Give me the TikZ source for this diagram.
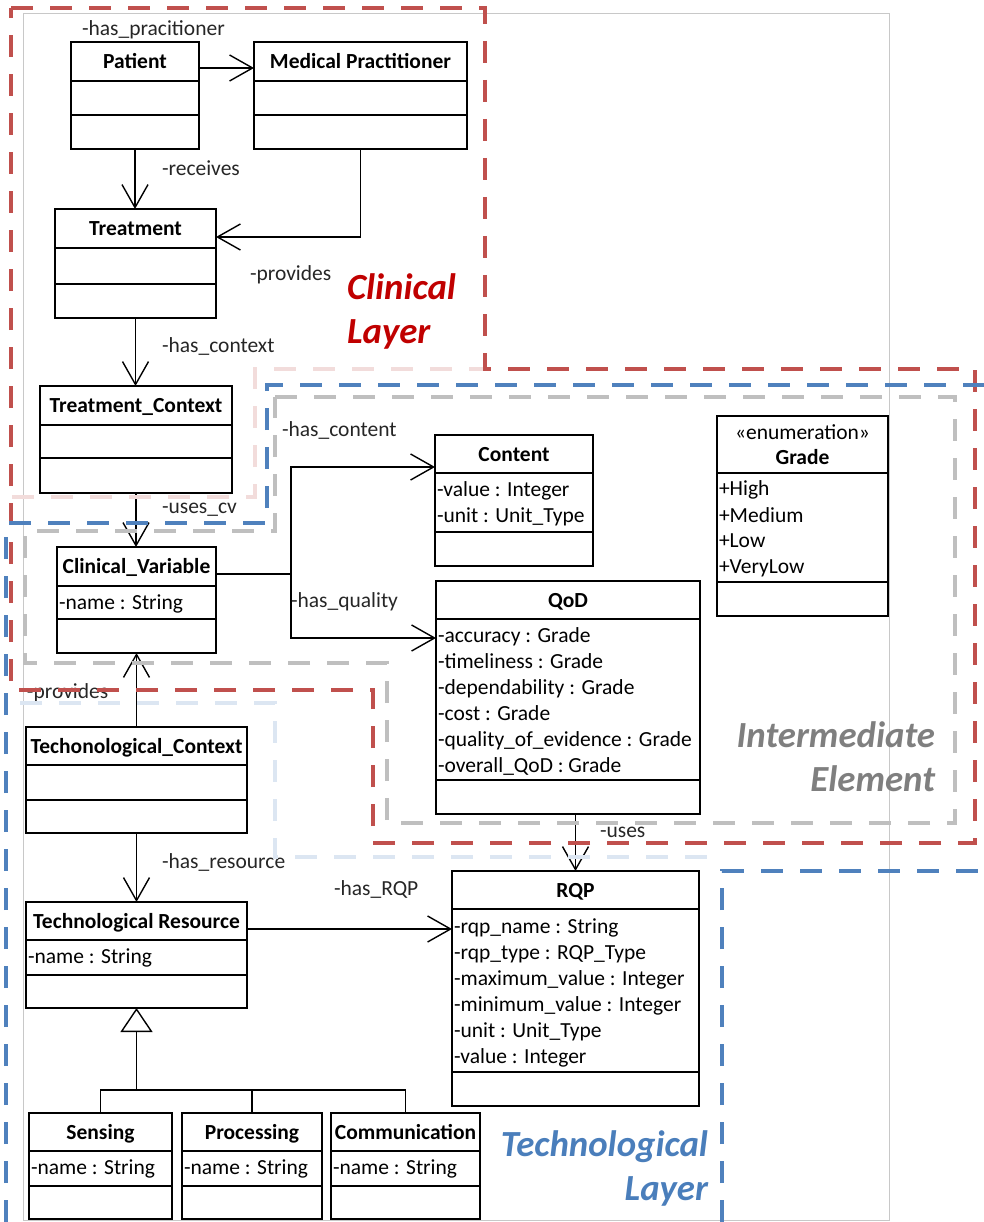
\documentclass[tikz,border=0pt]{standalone}
\usepackage{fontspec}
\setmainfont{Carlito}
\usetikzlibrary{arrows.meta}

\definecolor{layerred}{HTML}{C0504D}
\definecolor{layerblue}{HTML}{4F81BD}
\definecolor{layergray}{HTML}{BFBFBF}
\definecolor{ghostred}{HTML}{F2DCDB}
\definecolor{ghostblue}{HTML}{DCE6F2}
\definecolor{framegray}{HTML}{C8C8C8}
\definecolor{clinred}{HTML}{C00000}
\definecolor{techblue}{HTML}{4A7EBB}
\definecolor{intergray}{HTML}{7F7F7F}
\definecolor{lblgray}{HTML}{262626}

% UML class: name, left x, top y, width, total height, first and second compartment offsets
\newcommand\umlclass[7]{%
  \node[classbox, minimum width=#4pt, minimum height=#5pt, anchor=north west] (#1) at (#2,#3) {};
  \draw[compline] ([yshift=-#6pt]#1.north west) -- ([yshift=-#6pt]#1.north east);
  \draw[compline] ([yshift=-#7pt]#1.north west) -- ([yshift=-#7pt]#1.north east);
}

\begin{document}
\begin{tikzpicture}[x=1pt,y=-1pt,
  every node/.style={inner sep=0pt, outer sep=0pt},
  font=\fontsize{21.5}{26}\selectfont,
  classbox/.style={draw=black, line width=1.8pt, fill=white, rectangle},
  compline/.style={draw=black, line width=1.8pt},
  ttl/.style={anchor=base, font=\fontsize{21.5}{26}\selectfont\bfseries},
  stereo/.style={anchor=base},
  attr/.style={anchor=base west},
  lbl/.style={anchor=base west, text=lblgray},
  link/.style={line width=1.4pt},
  assoc/.style={line width=1.4pt, -{Straight Barb[length=23pt, width=26pt]}},
  gen/.style={line width=1.4pt, -{Triangle[open, length=24pt, width=32pt, fill=white]}},
  layerline/.style={line width=4.5pt, dash pattern=on 22pt off 17pt},
  layertxt/.style={font=\fontsize{36.8}{44}\selectfont\bfseries\itshape},
]
\useasboundingbox (0,0) rectangle (984,1222);

% thin page frame
\draw[framegray, line width=0.8pt] (23,13) rectangle (889,1220);

% ---------- classes ----------
\umlclass{patient}{71}{42}{128}{107}{39}{73}
\umlclass{mp}{254}{42}{213}{107}{39}{73}
\umlclass{treatment}{55}{209}{161}{109}{39}{75}
\umlclass{tctx}{40}{386}{192}{107}{39}{72}
\umlclass{cv}{57}{547}{159}{106}{39}{72}
\umlclass{content}{435}{435}{158}{131}{38}{97}
\umlclass{qod}{436}{581}{264}{233}{38}{199}
\umlclass{grade}{717}{416}{171}{200}{57}{166}
\umlclass{techctx}{26}{727}{221}{106}{38}{73}
\umlclass{techres}{26}{902}{221}{106}{38}{73}
\umlclass{sensing}{29}{1113}{143}{106}{38}{73}
\umlclass{processing}{182}{1113}{140}{106}{38}{73}
\umlclass{communication}{331}{1113}{149}{106}{38}{73}
\umlclass{rqp}{452}{871}{247}{235}{38}{201}

% class names
\node[ttl] (patient-t) at (135,68.5) {Patient};
\node[ttl] (mp-t) at (360.5,68.5) {Medical Practitioner};
\node[ttl] (treatment-t) at (135.5,235.5) {Treatment};
\node[ttl] (tctx-t) at (136,412.5) {Treatment\_Context};
\node[ttl] (cv-t) at (136.5,573.5) {Clinical\_Variable};
\node[ttl] (content-t) at (514,461) {Content};
\node[ttl] (qod-t) at (568,607) {QoD};
\node[stereo] (grade-s) at (802.5,439) {«enumeration»};
\node[ttl] (grade-t) at (802.5,464) {Grade};
\node[ttl] (techctx-t) at (136.5,753) {Techonological\_Context};
\node[ttl] (techres-t) at (136.5,928) {Technological Resource};
\node[ttl] (sensing-t) at (100.5,1139) {Sensing};
\node[ttl] (processing-t) at (252,1139) {Processing};
\node[ttl] (communication-t) at (405.5,1139) {Communication};
\node[ttl] (rqp-t) at (575.5,897) {RQP};

% attributes
\node[attr] (cv-a1) at (59,609) {-name : String};
\node[attr] (content-a1) at (437,496) {-value : Integer};
\node[attr] (content-a2) at (437,522) {-unit : Unit\_Type};
\node[attr] (qod-a1) at (438,642) {-accuracy : Grade};
\node[attr] (qod-a2) at (438,668) {-timeliness : Grade};
\node[attr] (qod-a3) at (438,694) {-dependability : Grade};
\node[attr] (qod-a4) at (438,720) {-cost : Grade};
\node[attr] (qod-a5) at (438,746) {-quality\_of\_evidence : Grade};
\node[attr] (qod-a6) at (438,772) {-overall\_QoD : Grade};
\node[attr] (grade-a1) at (719,495) {+High};
\node[attr] (grade-a2) at (719,522) {+Medium};
\node[attr] (grade-a3) at (719,547) {+Low};
\node[attr] (grade-a4) at (719,573) {+VeryLow};
\node[attr] (techres-a1) at (28,963) {-name : String};
\node[attr] (sensing-a1) at (31,1174) {-name : String};
\node[attr] (processing-a1) at (184,1174) {-name : String};
\node[attr] (communication-a1) at (333,1174) {-name : String};
\node[attr] (rqp-a1) at (454,933) {-rqp\_name : String};
\node[attr] (rqp-a2) at (454,959) {-rqp\_type : RQP\_Type};
\node[attr] (rqp-a3) at (454,985) {-maximum\_value : Integer};
\node[attr] (rqp-a4) at (454,1011) {-minimum\_value : Integer};
\node[attr] (rqp-a5) at (454,1037) {-unit : Unit\_Type};
\node[attr] (rqp-a6) at (454,1063) {-value : Integer};

% ---------- associations ----------
\coordinate (pout) at ([yshift=-26pt]patient.north east);
\draw[assoc] (pout) -- (pout -| mp.west);
\draw[assoc] (patient.south) -- (patient.south |- treatment.north);
\coordinate (mpin) at ([yshift=-28pt]treatment.north east);
\draw[assoc] (mp.south) |- (mpin);
\draw[assoc] (treatment.south) -- (treatment.south |- tctx.north);
\draw[assoc] (tctx.south) -- (tctx.south |- cv.north);
\coordinate (cvout) at ([yshift=-27pt]cv.north east);
\coordinate (cvjoin) at (291,574);
\coordinate (contin) at ([yshift=-32pt]content.north west);
\coordinate (qodin) at ([yshift=-57pt]qod.north west);
\draw[link] (cvout) -- (cvjoin);
\draw[assoc] (cvjoin) |- (contin);
\draw[assoc] (cvjoin) |- (qodin);
\draw[assoc] (techctx.north) -- (techctx.north |- cv.south);
\draw[assoc] (techctx.south) -- (techctx.south |- techres.north);
\coordinate (trout) at ([yshift=-27pt]techres.north east);
\draw[assoc] (trout) -- (trout -| rqp.west);
\draw[assoc] (rqp.north |- qod.south) -- (rqp.north);

% generalization
\coordinate (genjoin) at (136.5,1090);
\draw[gen] (genjoin) -- (techres.south);
\draw[link] (sensing.north) |- (genjoin) -| (communication.north);
\draw[link] (processing.north) -- (processing.north |- genjoin);

% role names
\node[lbl] (l-prac) at (82,36) {-has\_pracitioner};
\node[lbl] (l-recv) at (162,176) {-receives};
\node[lbl] (l-prov) at (250,280) {-provides};
\node[lbl] (l-ctx) at (162,352) {-has\_context};
\node[lbl] (l-cv) at (162,513) {-uses\_cv};
\node[lbl] (l-cont) at (282,436) {-has\_content};
\node[lbl] (l-qual) at (291,607) {-has\_quality};
\node[lbl] (l-prov2) at (27,698) {-provides};
\node[lbl] (l-res) at (162,868) {-has\_resource};
\node[lbl] (l-rqp) at (334,895) {-has\_RQP};
\node[lbl] (l-uses) at (600,837) {-uses};

% ---------- layer outlines ----------
\draw[layerline, ghostred] (12,497) -- (255,497) -- (255,369) -- (485,369);
\draw[layerline, ghostblue] (20,703) -- (275,703) -- (275,857) -- (722,857);
\draw[layerline, layergray] (275,397) -- (955,397) -- (955,823) -- (387,823)
  -- (387,663) -- (25,663) -- (25,531) -- (275,531) -- cycle;
\draw[layerline, layerred] (11,8) -- (485,8) -- (485,369) -- (975,369) -- (975,843)
  -- (373,843) -- (373,690) -- (11,690) -- cycle;
\draw[layerline, layerblue] (6,1222) -- (6,523) -- (267,523) -- (267,385) -- (984,385);
\draw[layerline, layerblue] (722,1222) -- (722,871) -- (984,871);

% layer names
\node[layertxt, text=clinred, anchor=base west] (clin1) at (347,300) {Clinical};
\node[layertxt, text=clinred, anchor=base west] (clin2) at (347,343) {Layer};
\node[layertxt, text=intergray, anchor=base east] (inter1) at (935,747) {Intermediate};
\node[layertxt, text=intergray, anchor=base east] (inter2) at (935,791) {Element};
\node[layertxt, text=techblue, anchor=base east] (tech1) at (708,1156) {Technological};
\node[layertxt, text=techblue, anchor=base east] (tech2) at (708,1200) {Layer};
\end{tikzpicture}
\end{document}
